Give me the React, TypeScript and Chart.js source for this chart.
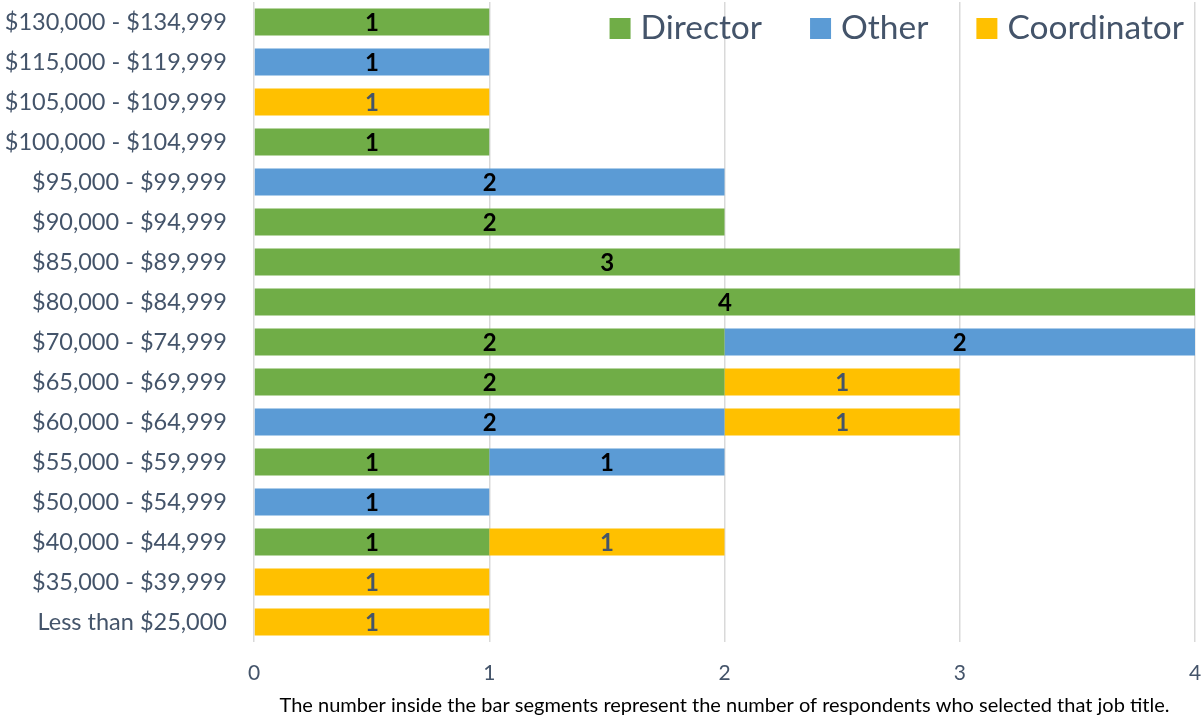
import React, { useEffect, useRef } from "react";
import { Chart, registerables } from "chart.js";

Chart.register(...registerables);

const categories = [
  "$130,000 - $134,999",
  "$115,000 - $119,999",
  "$105,000 - $109,999",
  "$100,000 - $104,999",
  "$95,000 - $99,999",
  "$90,000 - $94,999",
  "$85,000 - $89,999",
  "$80,000 - $84,999",
  "$70,000 - $74,999",
  "$65,000 - $69,999",
  "$60,000 - $64,999",
  "$55,000 - $59,999",
  "$50,000 - $54,999",
  "$40,000 - $44,999",
  "$35,000 - $39,999",
  "Less than $25,000",
];

const seriesNames = ["Director", "Other", "Coordinator"];
const directorValues = [1, 0, 0, 1, 0, 2, 3, 4, 2, 2, 0, 1, 0, 1, 0, 0];
const otherValues = [0, 1, 0, 0, 2, 0, 0, 0, 2, 0, 2, 1, 1, 0, 0, 0];
const coordinatorValues = [0, 0, 1, 0, 0, 0, 0, 0, 0, 1, 1, 0, 0, 1, 1, 1];
const xTicks = [0, 1, 2, 3, 4];
const footnote =
  "The number inside the bar segments represent the number of respondents who selected that job title.";

const seriesColors = ["#70AD47", "#5B9BD5", "#FFC000"];
const labelColors = ["#000000", "#000000", "#44546A"];
const FONT = "Lato, 'Open Sans', sans-serif";
const TEXT = "#44546A";

const valueLabels = {
  id: "valueLabels",
  afterDatasetsDraw(chart: any) {
    const ctx = chart.ctx;
    ctx.save();
    ctx.font = `bold 24px ${FONT}`;
    ctx.textAlign = "center";
    ctx.textBaseline = "middle";
    chart.data.datasets.forEach((ds: any, di: number) => {
      const meta = chart.getDatasetMeta(di);
      meta.data.forEach((el: any, i: number) => {
        const v = ds.data[i];
        if (!v) return;
        const p = el.getProps(["x", "y", "base"], true);
        ctx.fillStyle = labelColors[di];
        ctx.fillText(String(v), (p.x + p.base) / 2, p.y + 1);
      });
    });
    ctx.restore();
  },
};

const topLegend = {
  id: "topLegend",
  afterDraw(chart: any) {
    const ctx = chart.ctx;
    ctx.save();
    ctx.font = `33.5px ${FONT}`;
    ctx.textBaseline = "middle";
    ctx.textAlign = "left";
    const box = 21;
    const gapBox = 10;
    const gapItem = 48;
    const widths = chart.data.datasets.map(
      (ds: any) => box + gapBox + ctx.measureText(ds.label).width
    );
    const total =
      widths.reduce((a: number, b: number) => a + b, 0) +
      gapItem * (widths.length - 1);
    let x = 1184 - total;
    const cy = 28.5;
    chart.data.datasets.forEach((ds: any, i: number) => {
      ctx.fillStyle = ds.backgroundColor;
      ctx.fillRect(x, cy - box / 2, box, box);
      ctx.fillStyle = TEXT;
      ctx.fillText(ds.label, x + box + gapBox, cy);
      x += widths[i] + gapItem;
    });
    ctx.restore();
  },
};

export default function App() {
  const ref = useRef<HTMLCanvasElement | null>(null);
  useEffect(() => {
    if (!ref.current) return;
    const values = [directorValues, otherValues, coordinatorValues];
    const chart = new Chart(ref.current, {
      type: "bar",
      data: {
        labels: categories,
        datasets: seriesNames.map((name, i) => ({
          label: name,
          data: values[i],
          backgroundColor: seriesColors[i],
          borderWidth: 0,
          barPercentage: 0.675,
          categoryPercentage: 1,
        })),
      },
      options: {
        indexAxis: "y",
        animation: false,
        responsive: false,
        maintainAspectRatio: false,
        layout: { padding: { top: 2, right: 9, left: 0, bottom: 0 } },
        plugins: {
          legend: { display: false },
          tooltip: { enabled: false },
          title: { display: false },
        },
        scales: {
          x: {
            stacked: true,
            min: 0,
            max: 4,
            afterBuildTicks: (scale: any) => {
              scale.ticks = xTicks.map((v) => ({ value: v }));
            },
            grid: { color: "#D9D9D9", lineWidth: 1.5, drawTicks: false },
            border: { display: false },
            ticks: {
              color: TEXT,
              font: { family: FONT, size: 21 },
              padding: 19,
            },
            title: {
              display: true,
              text: footnote,
              color: "#000000",
              font: { family: FONT, size: 20 },
              padding: { top: 0, bottom: 3 },
            },
            afterFit: (scale: any) => {
              scale.height = 79;
              scale.paddingLeft = 0;
              scale.paddingRight = 0;
            },
          },
          y: {
            stacked: true,
            grid: { display: false, drawTicks: false },
            border: { display: false },
            ticks: {
              color: TEXT,
              font: { family: FONT, size: 23.5 },
              padding: 27,
              autoSkip: false,
            },
            afterFit: (scale: any) => {
              scale.width = 254;
              scale.paddingTop = 0;
              scale.paddingBottom = 0;
            },
          },
        },
      },
      plugins: [valueLabels, topLegend],
    });
    return () => chart.destroy();
  }, []);
  return (
    <div style={{ position: "fixed", left: 0, top: 0, width: 1204, height: 721, background: "#fff" }}>
      <canvas ref={ref} width={1204} height={721} style={{ width: 1204, height: 721 }} />
    </div>
  );
}
